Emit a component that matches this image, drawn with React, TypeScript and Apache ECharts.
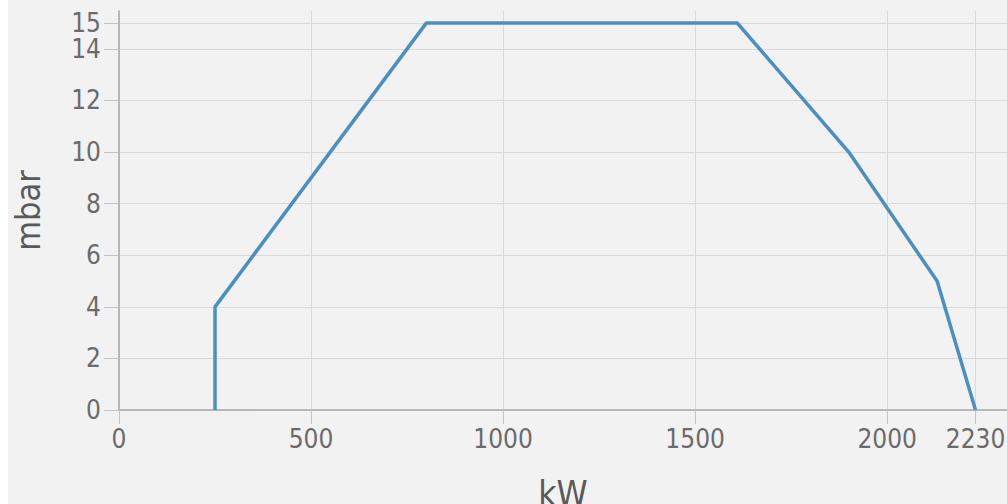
import React, { useEffect, useRef } from "react";
import * as echarts from "echarts";

const powerKW = [250, 250, 800, 1610, 1900, 2130, 2230];
const pressureMbar = [0, 4, 15, 15, 10, 5, 0];
const xTicks = [0, 500, 1000, 1500, 2000, 2230];
const yTicks = [0, 2, 4, 6, 8, 10, 12, 14];
const yTopTick = [15];
const xName = "kW";
const yName = "mbar";

const FONT = "'DejaVu Sans Condensed', 'DejaVu Sans', sans-serif";
const Y_MAX = 15.47;

export default function App() {
  const ref = useRef<HTMLDivElement>(null);
  useEffect(() => {
    if (!ref.current) return;
    const chart = echarts.init(ref.current, undefined, { renderer: "svg" });
    const labelStyle = {
      color: "#6b6b6b",
      fontSize: 26,
      lineHeight: 22,
      fontFamily: FONT,
      hideOverlap: false,
      formatter: (v: number) => String(v),
    };
    const tickStyle = { color: "#c4c4c4" };
    const splitStyle = { show: true, lineStyle: { color: "#dadada", width: 1 } };
    chart.setOption({
      animation: false,
      backgroundColor: "#f2f2f2",
      grid: {
        left: 111,
        right: 0,
        top: 11,
        bottom: 94,
        containLabel: false,
        outerBoundsMode: "none",
      },
      xAxis: {
        type: "value",
        min: 0,
        max: 2312,
        name: xName,
        nameLocation: "middle",
        nameGap: 66,
        nameTextStyle: { color: "#5a5a5a", fontSize: 35, fontFamily: FONT },
        axisLine: { show: true, lineStyle: { color: "#a8a8a8", width: 1.5 } },
        axisTick: { show: true, length: 14, customValues: xTicks, lineStyle: tickStyle },
        axisLabel: { ...labelStyle, margin: 18, customValues: xTicks },
        splitLine: splitStyle,
      },
      yAxis: [
        {
          type: "value",
          min: 0,
          max: Y_MAX,
          position: "left",
          name: yName,
          nameLocation: "middle",
          nameGap: 74,
          nameRotate: 90,
          nameTextStyle: { color: "#5a5a5a", fontSize: 34, fontFamily: FONT },
          axisLine: { show: true, lineStyle: { color: "#a8a8a8", width: 1.5 } },
          axisTick: { show: true, length: 15, customValues: yTicks, lineStyle: tickStyle },
          axisLabel: { ...labelStyle, margin: 18, customValues: yTicks },
          splitLine: splitStyle,
        },
        {
          type: "value",
          min: 0,
          max: Y_MAX,
          position: "left",
          offset: 0,
          axisLine: { show: false },
          axisTick: { show: true, length: 15, customValues: yTopTick, lineStyle: tickStyle },
          axisLabel: { ...labelStyle, margin: 18, customValues: yTopTick },
          splitLine: splitStyle,
        },
      ],
      series: [
        {
          type: "line",
          yAxisIndex: 0,
          data: powerKW.map((x, i) => [x, pressureMbar[i]]),
          showSymbol: false,
          symbol: "none",
          lineStyle: { color: "#4b8fc0", width: 3.5 },
          clip: false,
        },
      ],
    });
    return () => chart.dispose();
  }, []);
  return (
    <div
      ref={ref}
      style={{ position: "absolute", left: 8, top: 0, width: 999, height: 504 }}
    />
  );
}
